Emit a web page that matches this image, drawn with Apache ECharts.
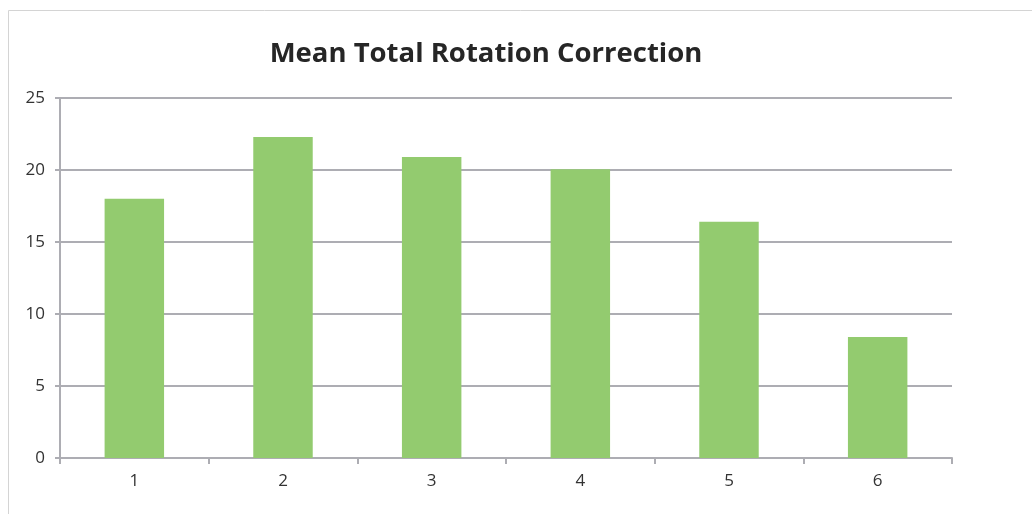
<!DOCTYPE html>
<html><head><meta charset="utf-8">
<script src="https://cdn.jsdelivr.net/npm/echarts@6/dist/echarts.min.js"></script>
<style>html,body{margin:0;padding:0;background:#fff}#c{width:1032px;height:514px}</style>
</head><body><div id="c"></div>
<script>
const categories = ['1','2','3','4','5','6'];
const values = [18.0, 22.3, 20.9, 20.05, 16.4, 8.4];
const titleText = 'Mean Total Rotation Correction';

const chart = echarts.init(document.getElementById('c'), null, {renderer:'canvas'});
chart.setOption({
  animation:false,
  backgroundColor:'#fff',
  graphic:[{type:'rect',shape:{x:8.5,y:10.5,width:1100,height:600},style:{fill:'none',stroke:'#d4d4d4',lineWidth:1},silent:true}],
  title:{text:titleText,left:481,top:35,textAlign:'center',textStyle:{fontFamily:'Open Sans',fontWeight:'bold',fontSize:27.5,color:'#262626'}},
  grid:{left:60,right:80,top:98,bottom:56,containLabel:false},
  xAxis:{type:'category',data:categories,boundaryGap:true,
    axisLine:{lineStyle:{color:'#adadb3',width:2}},
    axisTick:{show:true,length:6,lineStyle:{color:'#adadb3',width:2},alignWithLabel:false},
    axisLabel:{fontFamily:'Open Sans',fontSize:17,color:'#333',margin:15},
    splitLine:{show:false}},
  yAxis:{type:'value',min:0,max:25,interval:5,
    axisLine:{show:true,lineStyle:{color:'#adadb3',width:2}},
    axisTick:{show:true,length:5,lineStyle:{color:'#adadb3',width:2}},
    axisLabel:{fontFamily:'Open Sans',fontSize:17,color:'#333',margin:15},
    splitLine:{show:true,lineStyle:{color:'#adadb3',width:2}}},
  series:[{type:'bar',data:values,barWidth:'40%',itemStyle:{color:'#93cb6f'}}]
});
</script></body></html>
